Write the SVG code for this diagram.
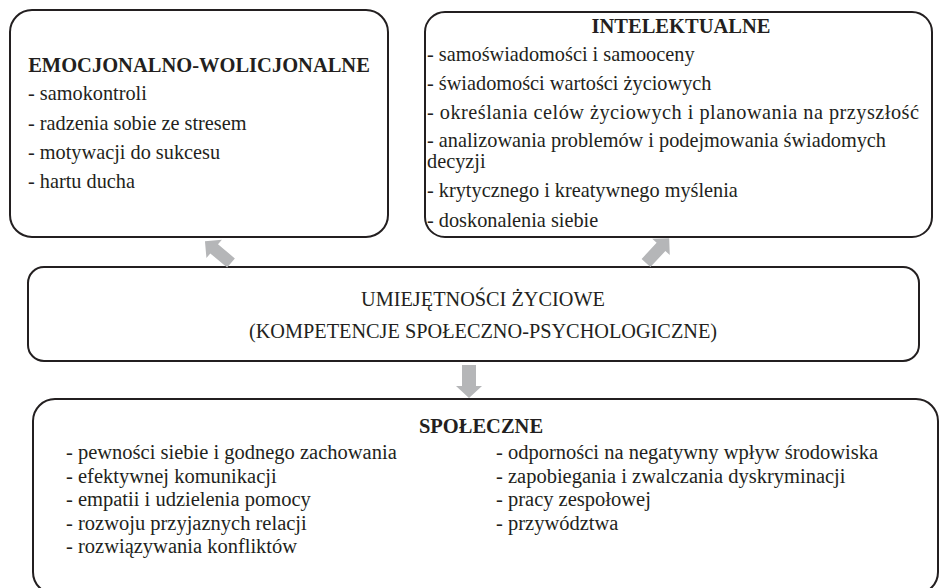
<svg xmlns="http://www.w3.org/2000/svg" width="946" height="588" viewBox="0 0 946 588" font-family="'Liberation Serif', 'Times New Roman', serif" font-size="20.3" fill="#231f20">
<style>
.box{fill:#fff;stroke:#231f20;stroke-width:2}
.arr{fill:#b5b6b8}
.b{font-weight:bold;font-size:20.5px}
</style>
<defs>
<path id="ar" d="M0,-6 L22,-6 L22,-12 L34,0 L22,12 L22,6 L0,6 Z"/>
</defs>
<rect width="946" height="588" fill="#fff"/>
<g id="emocjonalno">
<rect class="box" x="10" y="10" width="378" height="227" rx="22"/>
<text class="b" text-anchor="middle" x="199" y="72">EMOCJONALNO-WOLICJONALNE</text>
<text x="28" y="100">- samokontroli</text>
<text x="28" y="130">- radzenia sobie ze stresem</text>
<text x="28" y="159">- motywacji do sukcesu</text>
<text x="28" y="188">- hartu ducha</text>
</g>
<g id="intelektualne">
<rect class="box" x="425" y="12" width="507" height="225" rx="20"/>
<text class="b" text-anchor="middle" x="681" y="33">INTELEKTUALNE</text>
<text x="427" y="61">- samoświadomości i samooceny</text>
<text x="427" y="90">- świadomości wartości życiowych</text>
<text x="427" y="119" textLength="492" lengthAdjust="spacing">- określania celów życiowych i planowania na przyszłość</text>
<text x="427" y="147">- analizowania problemów i podejmowania świadomych</text>
<text x="427" y="168">decyzji</text>
<text x="427" y="197">- krytycznego i kreatywnego myślenia</text>
<text x="427" y="227">- doskonalenia siebie</text>
</g>
<g id="umiejetnosci">
<rect class="box" x="28" y="267" width="891" height="94" rx="16"/>
<text text-anchor="middle" x="483" y="306">UMIEJĘTNOŚCI ŻYCIOWE</text>
<text text-anchor="middle" x="483" y="338">(KOMPETENCJE SPOŁECZNO-PSYCHOLOGICZNE)</text>
</g>
<g id="spoleczne" font-size="20.5">
<rect class="box" x="33" y="399" width="905" height="195" rx="22"/>
<text class="b" text-anchor="middle" x="481" y="433">SPOŁECZNE</text>
<text x="66" y="459">- pewności siebie i godnego zachowania</text>
<text x="66" y="482.5">- efektywnej komunikacji</text>
<text x="66" y="506">- empatii i udzielenia pomocy</text>
<text x="66" y="529.5">- rozwoju przyjaznych relacji</text>
<text x="66" y="553">- rozwiązywania konfliktów</text>
<text x="496" y="459">- odporności na negatywny wpływ środowiska</text>
<text x="496" y="482.5">- zapobiegania i zwalczania dyskryminacji</text>
<text x="496" y="506">- pracy zespołowej</text>
<text x="496" y="529.5">- przywództwa</text>
</g>
<g id="connectors" class="arr">
<use href="#ar" transform="translate(231,263) rotate(220)"/>
<use href="#ar" transform="translate(646,263) rotate(-47)"/>
<path d="M462,365 L476,365 L476,386 L482,386 L469,398 L456,386 L462,386 Z"/>
</g>
</svg>
